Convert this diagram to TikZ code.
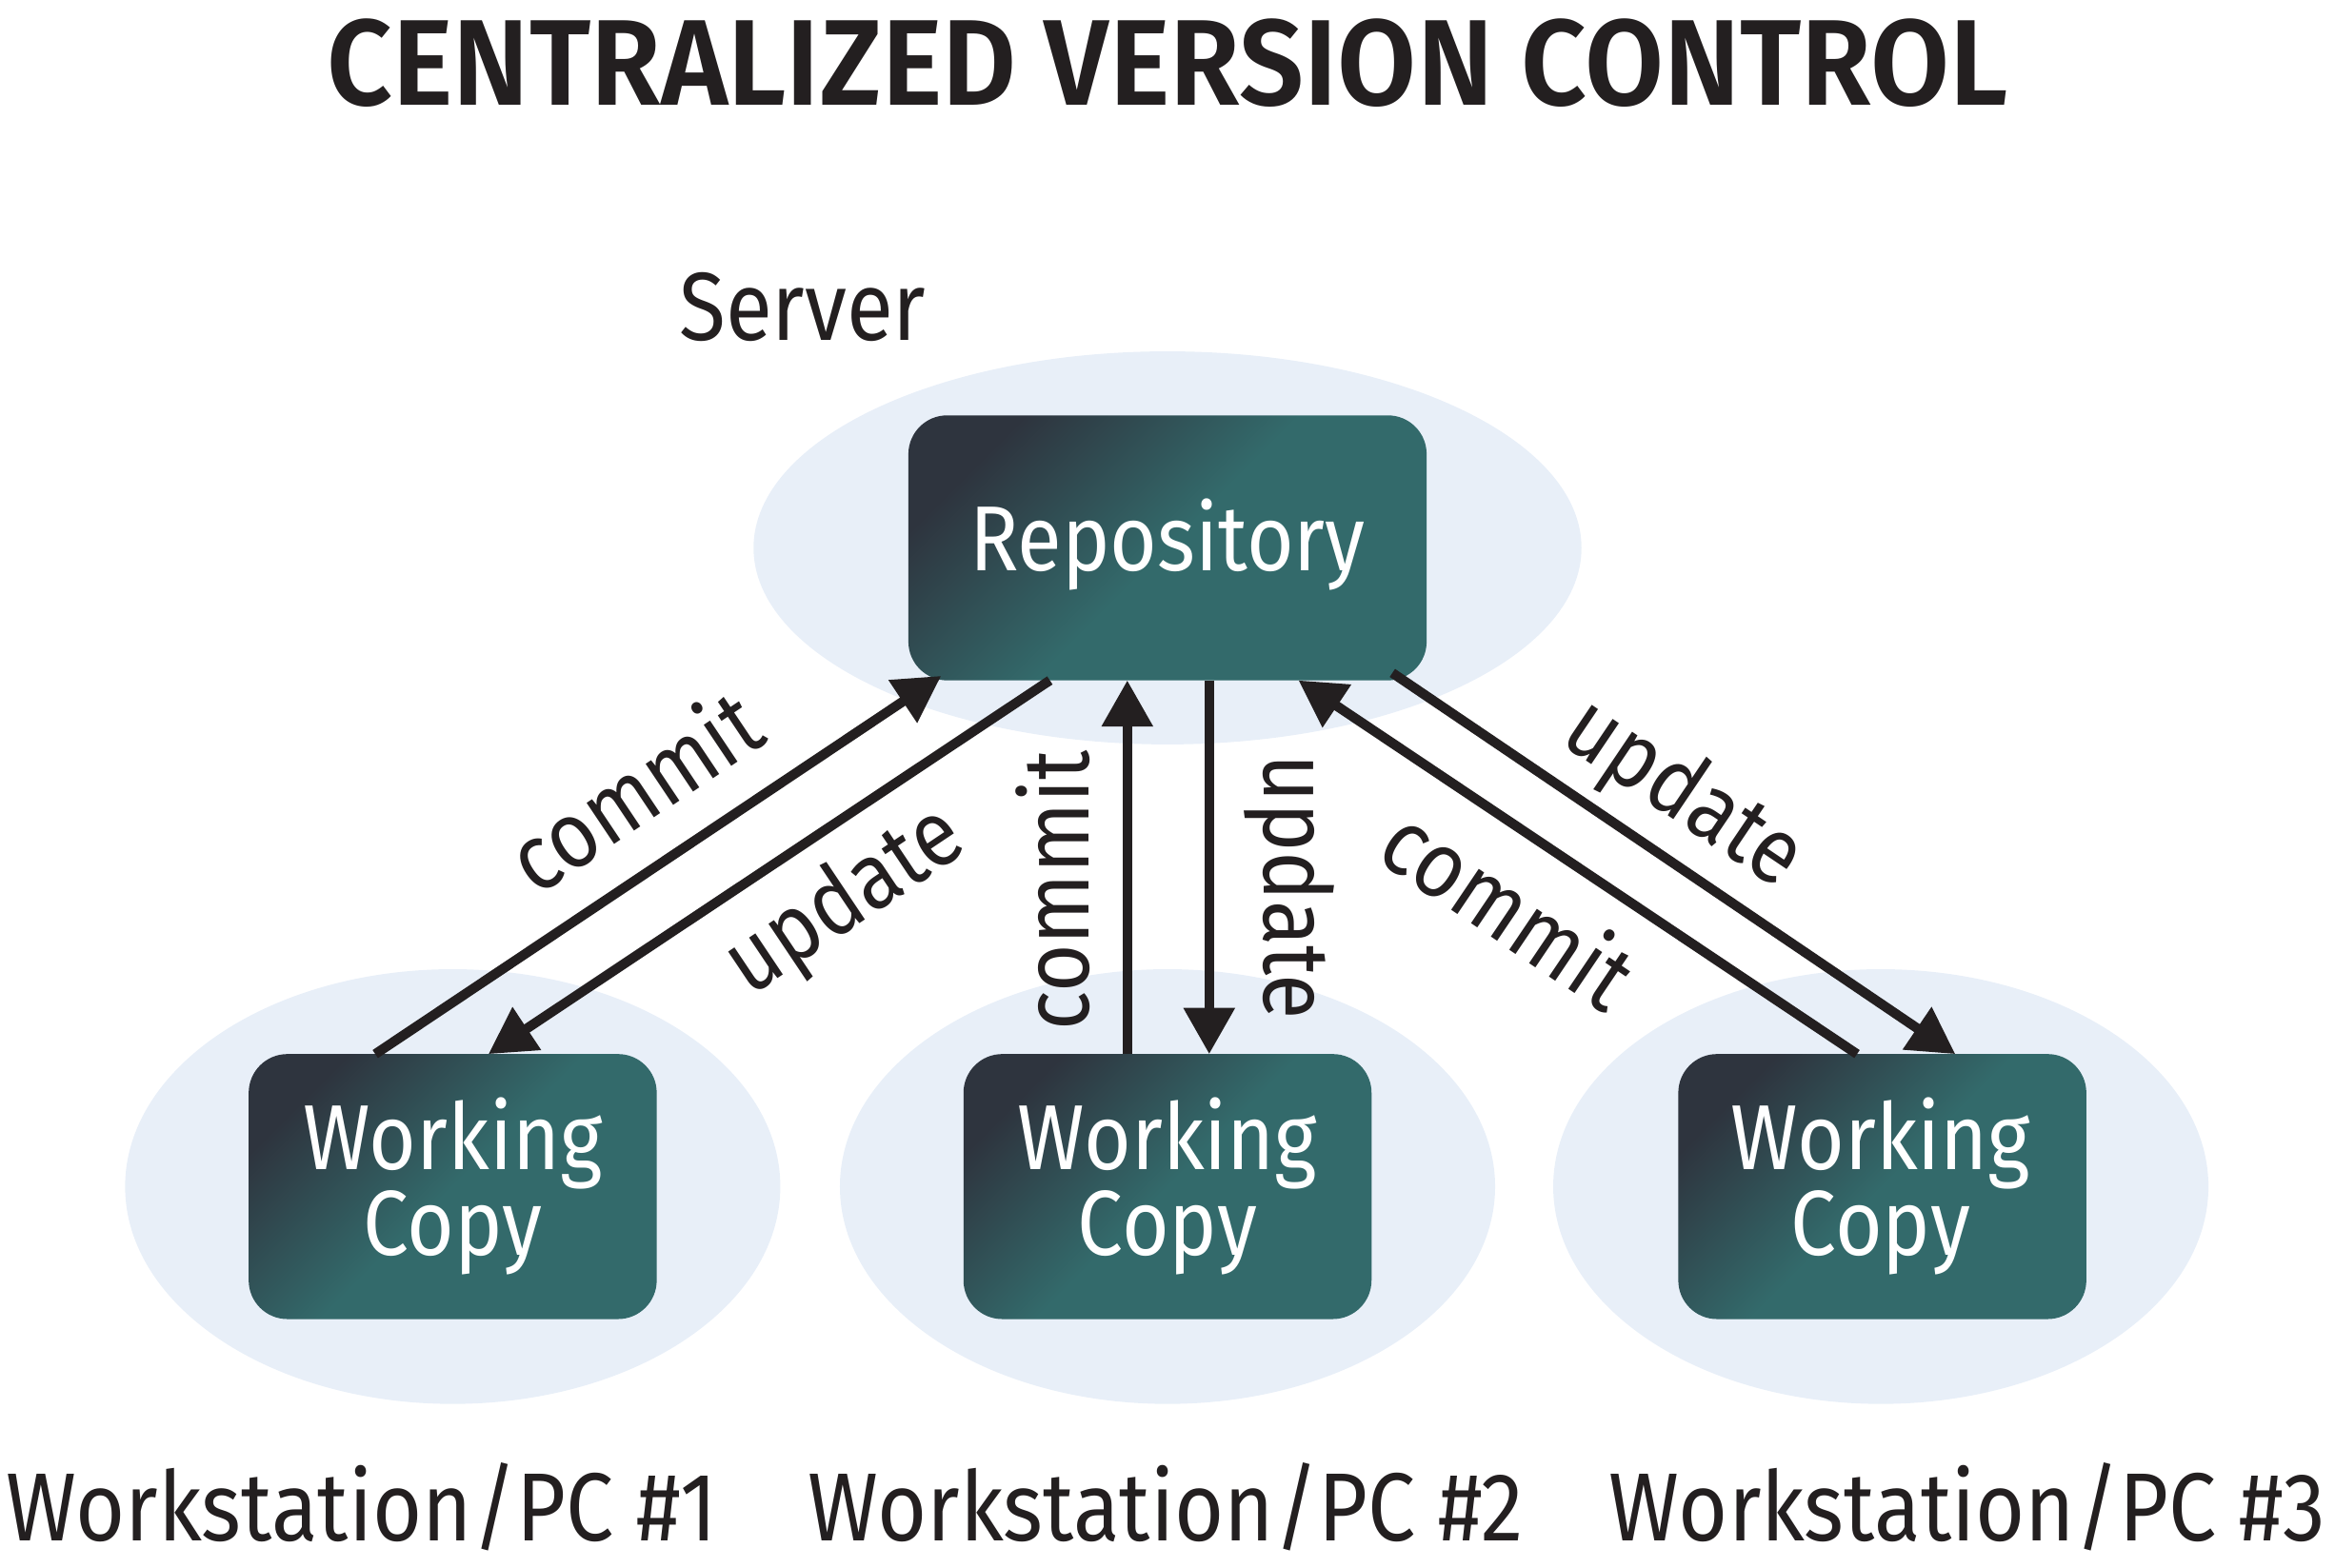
\documentclass[tikz,border=0pt]{standalone}
\usepackage{fontspec}
\setmainfont{Fira Sans}[FakeStretch=0.88]
\newfontfamily\titlefont{Fira Sans SemiBold}[FakeStretch=0.938]
\usetikzlibrary{arrows.meta}
\definecolor{ink}{RGB}{35,31,32}
\definecolor{halo}{RGB}{232,239,248}
\definecolor{boxdark}{RGB}{46,52,62}
\definecolor{boxteal}{RGB}{51,106,107}
\begin{document}
\begin{tikzpicture}[x=1pt,y=-1pt,
  halo/.style={fill=halo,draw=none},
  box/.style={rounded corners=26pt,shading=axis,top color=boxdark,bottom color=boxteal,middle color=boxteal,shading angle=45,draw=none},
  boxtext/.style={text=white,font=\fontsize{62}{56}\selectfont,align=center},
  lbl/.style={text=ink,font=\fontsize{63}{63}\selectfont,inner sep=0pt},
  flow/.style={draw=ink,line width=6.5pt,-{Triangle[length=31pt,width=33pt]}},
  station/.style={text=ink,font=\fontsize{65}{65}\selectfont,inner sep=0pt}
]
\useasboundingbox (0,0) rectangle (1568,1052.6);
% halos
\fill[halo] (784,368) ellipse [x radius=278,y radius=132];
\fill[halo] (304,797) ellipse [x radius=220,y radius=146];
\fill[halo] (784,797) ellipse [x radius=220,y radius=146];
\fill[halo] (1263,797) ellipse [x radius=220,y radius=146];
% boxes
\shade[box] (610,279) rectangle (958,457);
\shade[box] (167,708) rectangle (441,886);
\shade[box] (647,708) rectangle (921,886);
\shade[box] (1127,708) rectangle (1401,886);
\node[boxtext] (repo) at (784,366) {Repository};
\node[boxtext] (wc1) at (304,797) {Working\\Copy};
\node[boxtext] (wc2) at (784,797) {Working\\Copy};
\node[boxtext] (wc3) at (1263,797) {Working\\Copy};
% anchor coordinates
\coordinate (r1) at (632,454);
\coordinate (r2) at (705,457);
\coordinate (r3) at (757,457);
\coordinate (r4) at (812,457);
\coordinate (r5) at (872,457);
\coordinate (r6) at (935,452);
\coordinate (a1) at (252,708);
\coordinate (b1) at (328,708);
\coordinate (a2) at (757,708);
\coordinate (b2) at (812,708);
\coordinate (a3) at (1247,708);
\coordinate (b3) at (1313,708);
% arrows
\draw[flow] (a1) -- (r1);
\draw[flow] (r2) -- (b1);
\draw[flow] (a2) -- (r3);
\draw[flow] (r4) -- (b2);
\draw[flow] (a3) -- (r5);
\draw[flow] (r6) -- (b3);
% labels
\node[lbl,rotate=33.8] (c1) at (425,530) {commit};
\node[lbl,rotate=33.8] (u1) at (568,606) {update};
\node[lbl,rotate=90] (c2) at (707,598) {commit};
\node[lbl,rotate=-90] (u2) at (866,596) {update};
\node[lbl,rotate=-34] (u3) at (1130,534) {update};
\node[lbl,rotate=-34] (c3) at (1014,609) {commit};
% texts
\node[text=ink,font=\titlefont\fontsize{82}{82}\selectfont] (title) at (784,42) {CENTRALIZED VERSION CONTROL};
\node[station] (server) at (539,206) {Server};
\node[station] (ws1) at (243,1012) {Workstation/PC \#1};
\node[station] (ws2) at (783,1012) {Workstation/PC \#2};
\node[station] (ws3) at (1321,1012) {Workstation/PC \#3};
\end{tikzpicture}
\end{document}
